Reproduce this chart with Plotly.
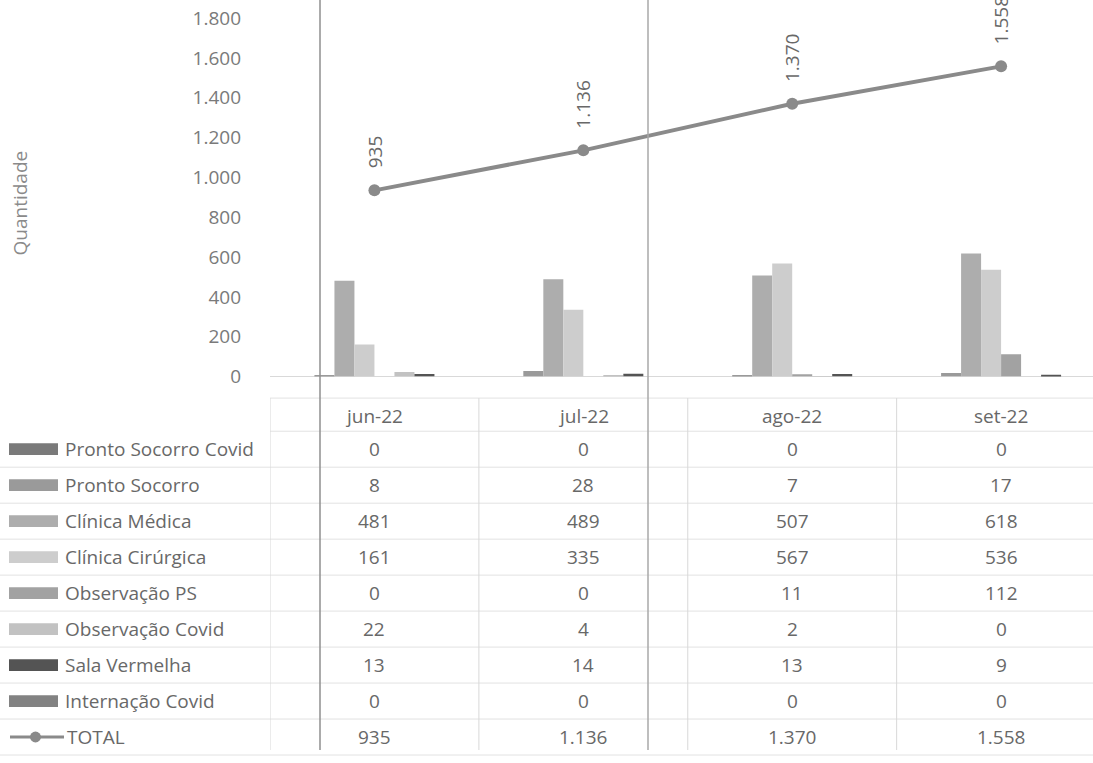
import plotly.graph_objects as go

W, H = 1093, 763

months = ["jun-22", "jul-22", "ago-22", "set-22"]
series_names = ["Pronto Socorro Covid", "Pronto Socorro", "Clínica Médica", "Clínica Cirúrgica",
                "Observação PS", "Observação Covid", "Sala Vermelha", "Internação Covid"]
pronto_socorro_covid = [0, 0, 0, 0]
pronto_socorro = [8, 28, 7, 17]
clinica_medica = [481, 489, 507, 618]
clinica_cirurgica = [161, 335, 567, 536]
observacao_ps = [0, 0, 11, 112]
observacao_covid = [22, 4, 2, 0]
sala_vermelha = [13, 14, 13, 9]
internacao_covid = [0, 0, 0, 0]
total = [935, 1136, 1370, 1558]
y_ticks = [0, 200, 400, 600, 800, 1000, 1200, 1400, 1600, 1800]

series_values = [pronto_socorro_covid, pronto_socorro, clinica_medica, clinica_cirurgica,
                 observacao_ps, observacao_covid, sala_vermelha, internacao_covid]
colors = ["#7a7a7a", "#9a9a9a", "#adadad", "#cdcdcd", "#a2a2a2", "#c2c2c2", "#545454", "#828282"]
line_color = "#8a8a8a"
text_color = "#686868"
FONT = "Open Sans, sans-serif"
FS = 19

def fmt(v):
    return f"{v:,}".replace(",", ".")

xs = list(range(len(months)))

fig = go.Figure()
for name, vals, col in zip(series_names, series_values, colors):
    fig.add_trace(go.Bar(x=xs, y=vals, name=name, marker=dict(color=col, line=dict(width=0)),
                         showlegend=False))
fig.add_trace(go.Scatter(x=xs, y=total, name="TOTAL", mode="lines+markers",
                         line=dict(color=line_color, width=4),
                         marker=dict(color=line_color, size=12), showlegend=False, cliponaxis=False))

def py(p):
    return 1 - p / H

plot_top, plot_bottom = 0, 383
left_px = 270
px_per_unit = 0.2025
y_top_val = plot_bottom / px_per_unit

annotations = []
shapes = []

for i, v in enumerate(total):
    annotations.append(dict(x=i, y=v, xref="x", yref="y", text=fmt(v), textangle=-90,
                            showarrow=False, yanchor="bottom", xanchor="center", yshift=20,
                            font=dict(size=FS, color=text_color, family=FONT)))

annotations.append(dict(x=20 / W, y=py(207), xref="paper", yref="paper", text="Quantidade",
                        textangle=-90, showarrow=False, xanchor="center", yanchor="middle",
                        font=dict(size=19, color="#8a8a8a", family=FONT)))

header_center = 423
first_row = 457
row_h = 36.6
row_centers = [first_row + row_h * k for k in range(len(series_names) + 1)]
table_top = 405
boundaries = [table_top] + [first_row - row_h / 2 + row_h * k for k in range(len(series_names) + 2)]

for i, m in enumerate(months):
    annotations.append(dict(x=i, y=py(header_center), xref="x", yref="paper", text=m,
                            showarrow=False, xanchor="center", yanchor="middle",
                            font=dict(size=FS, color=text_color, family=FONT)))

all_rows = series_values + [total]
row_labels = series_names + ["TOTAL"]
for r, (lab, vals) in enumerate(zip(row_labels, all_rows)):
    yc = row_centers[r]
    for i, v in enumerate(vals):
        annotations.append(dict(x=i, y=py(yc), xref="x", yref="paper", text=fmt(v),
                                showarrow=False, xanchor="center", yanchor="middle",
                                font=dict(size=FS, color=text_color, family=FONT)))
    annotations.append(dict(x=(63 if r < len(series_names) else 65) / W, y=py(yc), xref="paper",
                            yref="paper", text=lab, showarrow=False, xanchor="left", yanchor="middle",
                            font=dict(size=FS, color=text_color, family=FONT)))
    if r < len(series_names):
        shapes.append(dict(type="rect", xref="paper", yref="paper", x0=9 / W, x1=58 / W,
                           y0=py(yc - 6), y1=py(yc + 6), fillcolor=colors[r], line=dict(width=0)))
    else:
        shapes.append(dict(type="line", xref="paper", yref="paper", x0=10 / W, x1=64 / W,
                           y0=py(yc), y1=py(yc), line=dict(color=line_color, width=3)))
        shapes.append(dict(type="circle", xref="paper", yref="paper", x0=30 / W, x1=41 / W,
                           y0=py(yc - 5.5), y1=py(yc + 5.5), fillcolor=line_color, line=dict(width=0)))

for j, b in enumerate(boundaries):
    x0 = 0 if j >= 2 else left_px / W
    shapes.append(dict(type="line", xref="paper", yref="paper", x0=x0, x1=1, y0=py(b), y1=py(b),
                       line=dict(color="#e2e2e2", width=1)))
for k in range(len(months)):
    shapes.append(dict(type="line", xref="x", yref="paper", x0=k - 0.5, x1=k - 0.5,
                       y0=py(table_top), y1=0, line=dict(color="#d8d8d8", width=1)))

shapes.append(dict(type="line", xref="paper", yref="paper", x0=320 / W, x1=320 / W, y0=0, y1=1,
                   line=dict(color="#8f8f8f", width=1.5)))
shapes.append(dict(type="line", xref="paper", yref="paper", x0=648 / W, x1=648 / W, y0=0, y1=1,
                   line=dict(color="#a8a8a8", width=1.5)))

fig.update_layout(
    width=W, height=H,
    margin=dict(l=0, r=0, t=0, b=0),
    paper_bgcolor="white", plot_bgcolor="white",
    barmode="group", bargap=0.234, bargroupgap=0,
    separators=",.",
    font=dict(family=FONT, color=text_color),
    xaxis=dict(domain=[left_px / W, 1], range=[-0.5, 3.44], showticklabels=False, showgrid=False,
               zeroline=False, showline=False),
    yaxis=dict(domain=[py(plot_bottom), py(plot_top)], range=[0, y_top_val], tickvals=y_ticks,
               ticktext=[fmt(t) for t in y_ticks], showgrid=False, zeroline=True,
               zerolinecolor="#d9d9d9", zerolinewidth=1, showline=False,
               ticklabelstandoff=28, tickfont=dict(size=FS, color="#7a7a7a", family=FONT)),
    annotations=annotations, shapes=shapes,
)

fig.write_html("out.html", config={"displayModeBar": False},
               post_script="document.body.style.margin='0px';document.body.style.overflow='hidden';")
